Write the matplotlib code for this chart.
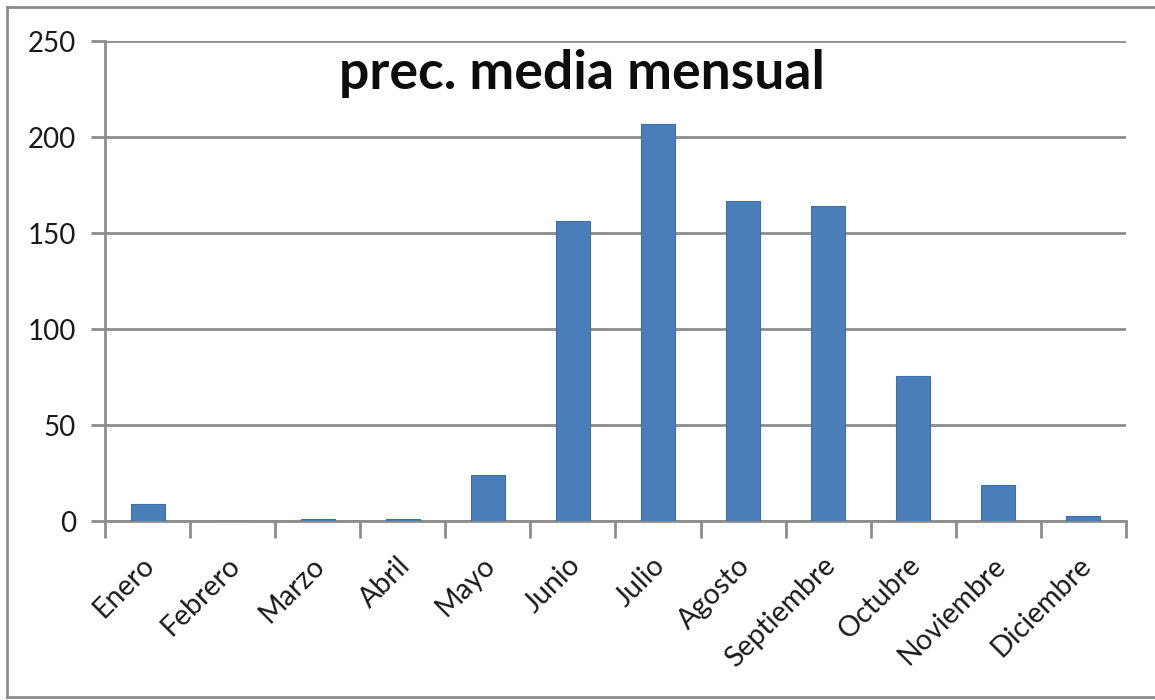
import matplotlib.pyplot as plt
import matplotlib.transforms as mtransforms
from matplotlib.lines import Line2D

meses = ['Enero', 'Febrero', 'Marzo', 'Abril', 'Mayo', 'Junio', 'Julio',
         'Agosto', 'Septiembre', 'Octubre', 'Noviembre', 'Diciembre']
prec = [9, 0, 1.2, 1.2, 24, 156.5, 207, 166.5, 164, 75.5, 19, 2.6]
yticks = [0, 50, 100, 150, 200, 250]

plt.rcParams['font.family'] = ['Lato', 'DejaVu Sans']
gris = '#8c8c8c'

fig = plt.figure(figsize=(11.55, 7), dpi=100)
ax = fig.add_axes([0.0909, 0.2557, 0.884, 0.6857])

ax.bar(range(len(meses)), prec, width=0.4, color='#4a7ebb',
       edgecolor='#3f6fa8', linewidth=0.8, zorder=3)

ax.set_xlim(-0.5, len(meses) - 0.5)
ax.set_ylim(0, 250)
ax.set_yticks(yticks)
ax.set_yticklabels([str(v) for v in yticks], fontsize=20, color='#1a1a1a')
ax.yaxis.grid(True, color=gris, linewidth=2, zorder=0)
ax.tick_params(axis='y', length=10, width=2, color=gris, pad=11)

ax.set_xticks(range(len(meses)))
ax.set_xticklabels(meses, rotation=45, ha='right', va='center',
                   rotation_mode='anchor', fontsize=20.5, color='#1a1a1a')
ax.tick_params(axis='x', which='major', length=0, pad=29)
desplaza = mtransforms.ScaledTranslation(3 / 100, 0, fig.dpi_scale_trans)
for lab in ax.get_xticklabels():
    lab.set_transform(lab.get_transform() + desplaza)
ax.set_xticks([i - 0.5 for i in range(len(meses) + 1)], minor=True)
ax.tick_params(axis='x', which='minor', length=12, width=2, color=gris)

for s in ['top', 'right']:
    ax.spines[s].set_visible(False)
for s in ['left', 'bottom']:
    ax.spines[s].set_color(gris)
    ax.spines[s].set_linewidth(2)

fig.text(582 / 1155, 1 - 73 / 700, 'prec. media mensual', fontsize=38.5,
         fontweight='bold', ha='center', va='center', color='#0d0d0d')

# marco del grafico
fig.add_artist(Line2D([7 / 1155, 1.0], [1 - 7 / 700, 1 - 7 / 700], color=gris, lw=2))
fig.add_artist(Line2D([7 / 1155, 7 / 1155], [1 - 7 / 700, 1 - 697 / 700], color=gris, lw=2))
fig.add_artist(Line2D([7 / 1155, 1.0], [1 - 697 / 700, 1 - 697 / 700], color=gris, lw=2))

fig.savefig('out.png', dpi=100)
